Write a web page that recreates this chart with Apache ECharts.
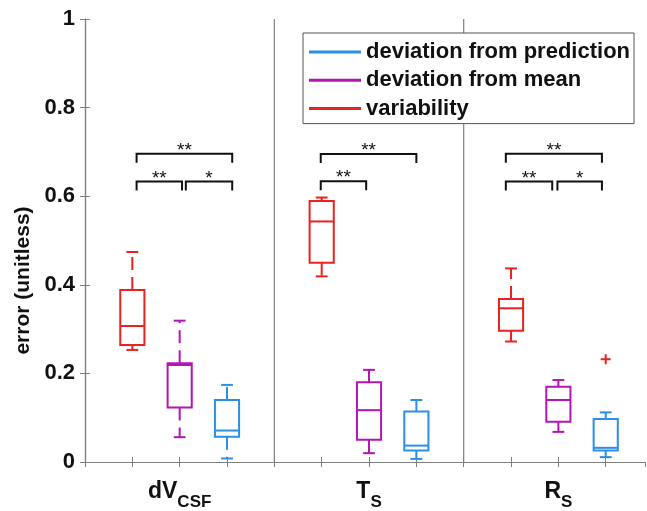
<!DOCTYPE html>
<html>
<head>
<meta charset="utf-8">
<script src="https://cdn.jsdelivr.net/npm/echarts@6/dist/echarts.min.js"></script>
<style>
html,body{margin:0;padding:0;background:#fff;}
#chart{width:647px;height:511px;}
</style>
</head>
<body>
<div id="chart"></div>
<script>
// ---- data ----
const groupLabelMain = ['dV', 'T', 'R'];
const groupLabelSub = ['CSF', 'S', 'S'];
const groupLabelPositions = [2, 6, 10];
const separatorPositions = [4, 8];
const yTicks = [0, 0.2, 0.4, 0.6, 0.8, 1];

// box stats: [lower whisker, q1, median, q3, upper whisker]
const variabilityX = [1, 5, 9];
const variabilityStats = [
  [0.253, 0.264, 0.307, 0.388, 0.474],
  [0.419, 0.450, 0.543, 0.589, 0.597],
  [0.272, 0.296, 0.347, 0.368, 0.437]
];
const meanX = [2, 6, 10];
const meanStats = [
  [0.056, 0.123, 0.219, 0.223, 0.319],
  [0.020, 0.050, 0.117, 0.180, 0.208],
  [0.068, 0.091, 0.140, 0.170, 0.185]
];
const predictionX = [3, 7, 11];
const predictionStats = [
  [0.008, 0.057, 0.071, 0.140, 0.174],
  [0.007, 0.026, 0.037, 0.114, 0.140],
  [0.011, 0.026, 0.032, 0.097, 0.112]
];
const outlierX = [11];
const outlierY = [0.232];

// significance brackets
const bracketStart = [1.09, 1.09, 2.13, 4.98, 4.98, 8.89, 8.89, 9.98];
const bracketEnd   = [3.11, 2.05, 3.11, 7.00, 5.94, 10.92, 9.87, 10.92];
const bracketLevel = [0.696, 0.633, 0.633, 0.695, 0.634, 0.696, 0.633, 0.633];
const bracketLabel = ['**', '**', '*', '**', '**', '**', '**', '*'];

// ---- styles ----
const FONT = '"Liberation Sans", Arial, Helvetica, sans-serif';
const AXIS_COLOR = '#808080';
const TEXT_COLOR = '#111111';
const C_RED = '#e8221f';
const C_MAG = '#b414b4';
const C_BLUE = '#2b8fe8';
const BOX_W = 0.51, CAP_W = 0.25;

function boxRender(color) {
  return function (params, api) {
    const x = api.value(0);
    const lo = api.coord([x, api.value(1)]);
    const q1 = api.coord([x, api.value(2)]);
    const md = api.coord([x, api.value(3)]);
    const q3 = api.coord([x, api.value(4)]);
    const hi = api.coord([x, api.value(5)]);
    const hw = api.size([BOX_W, 0])[0] / 2;
    const cw = api.size([CAP_W, 0])[0] / 2;
    const cx = q1[0];
    const s = { stroke: color, lineWidth: 2, fill: null };
    const d = { stroke: color, lineWidth: 2, lineDash: [13, 7] };
    return {
      type: 'group',
      children: [
        { type: 'line', shape: { x1: cx, y1: q3[1], x2: cx, y2: hi[1] }, style: d },
        { type: 'line', shape: { x1: cx, y1: q1[1], x2: cx, y2: lo[1] }, style: d },
        { type: 'line', shape: { x1: cx - cw, y1: hi[1], x2: cx + cw, y2: hi[1] }, style: s },
        { type: 'line', shape: { x1: cx - cw, y1: lo[1], x2: cx + cw, y2: lo[1] }, style: s },
        { type: 'rect', shape: { x: cx - hw, y: q3[1], width: 2 * hw, height: q1[1] - q3[1] }, style: { stroke: color, lineWidth: 2, fill: 'rgba(0,0,0,0)' } },
        { type: 'line', shape: { x1: cx - hw, y1: md[1], x2: cx + hw, y2: md[1] }, style: s }
      ]
    };
  };
}

function boxSeries(name, color, xs, stats) {
  return {
    name: name,
    type: 'custom',
    xAxisIndex: 0, yAxisIndex: 0,
    itemStyle: { color: color },
    encode: { x: 0, y: [1, 2, 3, 4, 5] },
    data: xs.map((x, i) => [x].concat(stats[i])),
    renderItem: boxRender(color),
    silent: true,
    z: 5
  };
}

const chart = echarts.init(document.getElementById('chart'), null, { renderer: 'canvas' });

const option = {
  backgroundColor: '#ffffff',
  animation: false,
  textStyle: { fontFamily: FONT },
  grid: { left: 85, right: 2, top: 19, bottom: 48, containLabel: false },
  legend: {
    data: [
      { name: 'deviation from prediction', itemStyle: { color: C_BLUE } },
      { name: 'deviation from mean', itemStyle: { color: C_MAG } },
      { name: 'variability', itemStyle: { color: C_RED } }
    ],
    orient: 'vertical',
    left: 303, top: 33,
    icon: 'rect',
    itemWidth: 52, itemHeight: 3,
    itemGap: 4.3,
    padding: [7, 4, 3, 6],
    backgroundColor: '#ffffff',
    borderColor: '#555555', borderWidth: 1,
    selectedMode: false,
    textStyle: { fontFamily: FONT, fontSize: 22, fontWeight: 'bold', color: TEXT_COLOR, lineHeight: 24 }
  },
  xAxis: [
    {
      type: 'value', position: 'bottom', min: 0, max: 11.83, interval: 1,
      axisLine: { show: true, lineStyle: { color: AXIS_COLOR, width: 1.2 } },
      axisTick: { show: true, inside: true, length: 5, lineStyle: { color: AXIS_COLOR } },
      splitLine: { show: false },
      axisLabel: {
        show: true, margin: 18, showMaxLabel: false, showMinLabel: false,
        formatter: function (v) {
          const i = groupLabelPositions.indexOf(v);
          if (i < 0) return '';
          return '{m|' + groupLabelMain[i] + '}{s|' + groupLabelSub[i] + '}';
        },
        rich: {
          m: { fontFamily: FONT, fontSize: 23, fontWeight: 'bold', color: TEXT_COLOR, verticalAlign: 'top' },
          s: { fontFamily: FONT, fontSize: 17, fontWeight: 'bold', color: TEXT_COLOR, verticalAlign: 'bottom', lineHeight: 31 }
        }
      }
    },
    {
      type: 'value', position: 'top', min: 0, max: 11.83, interval: 1,
      axisLine: { show: true, lineStyle: { color: AXIS_COLOR, width: 1.2 } },
      axisTick: { show: true, inside: true, length: 5, lineStyle: { color: AXIS_COLOR } },
      splitLine: { show: false },
      axisLabel: { show: false }
    }
  ],
  yAxis: [
    {
      type: 'value', position: 'left', min: 0, max: 1, interval: 0.2,
      name: 'error (unitless)', nameLocation: 'middle', nameGap: 42, nameRotate: 90,
      nameTextStyle: { fontFamily: FONT, fontSize: 21, fontWeight: 'bold', color: TEXT_COLOR, padding: [0, 80, 0, 0] },
      axisLine: { show: true, lineStyle: { color: AXIS_COLOR, width: 1.2 } },
      axisTick: { show: true, inside: true, length: 5, lineStyle: { color: AXIS_COLOR } },
      splitLine: { show: false },
      axisLabel: {
        margin: 10, fontFamily: FONT, fontSize: 22, fontWeight: 'bold', color: TEXT_COLOR,
        formatter: function (v) { return yTicks.indexOf(Math.round(v * 10) / 10) >= 0 ? String(Math.round(v * 10) / 10) : ''; }
      }
    },
    {
      type: 'value', position: 'right', min: 0, max: 1, interval: 0.2,
      axisLine: { show: true, lineStyle: { color: AXIS_COLOR, width: 1.2 } },
      axisTick: { show: true, inside: true, length: 5, lineStyle: { color: AXIS_COLOR } },
      splitLine: { show: false },
      axisLabel: { show: false }
    }
  ],
  series: [
    {
      name: 'separators', type: 'custom', xAxisIndex: 0, yAxisIndex: 0, silent: true, z: 1,
      encode: { x: 0 },
      data: separatorPositions.map(x => [x]),
      renderItem: function (params, api) {
        const x = api.value(0);
        const a = api.coord([x, 0]);
        const b = api.coord([x, 1]);
        return { type: 'line', shape: { x1: a[0], y1: a[1], x2: b[0], y2: b[1] }, style: { stroke: AXIS_COLOR, lineWidth: 1.2 } };
      }
    },
    boxSeries('variability', C_RED, variabilityX, variabilityStats),
    boxSeries('deviation from mean', C_MAG, meanX, meanStats),
    boxSeries('deviation from prediction', C_BLUE, predictionX, predictionStats),
    {
      name: 'outliers', type: 'custom', xAxisIndex: 0, yAxisIndex: 0, silent: true, z: 5,
      encode: { x: 0, y: 1 },
      data: outlierX.map((x, i) => [x, outlierY[i]]),
      renderItem: function (params, api) {
        const p = api.coord([api.value(0), api.value(1)]);
        const r = 5;
        const st = { stroke: C_RED, lineWidth: 2 };
        return { type: 'group', children: [
          { type: 'line', shape: { x1: p[0] - r, y1: p[1], x2: p[0] + r, y2: p[1] }, style: st },
          { type: 'line', shape: { x1: p[0], y1: p[1] - r, x2: p[0], y2: p[1] + r }, style: st }
        ] };
      }
    },
    {
      name: 'brackets', type: 'custom', xAxisIndex: 0, yAxisIndex: 0, silent: true, z: 6,
      encode: { x: [0, 1], y: 2 },
      data: bracketStart.map((s, i) => [s, bracketEnd[i], bracketLevel[i]]),
      renderItem: function (params, api) {
        const a = api.coord([api.value(0), api.value(2)]);
        const b = api.coord([api.value(1), api.value(2)]);
        const drop = 9;
        const st = { stroke: '#111', lineWidth: 2, fill: null };
        return { type: 'group', children: [
          { type: 'polyline', shape: { points: [[a[0], a[1] + drop], [a[0], a[1]], [b[0], b[1]], [b[0], b[1] + drop]] }, style: st },
          { type: 'text', style: { text: bracketLabel[params.dataIndex], x: (a[0] + b[0]) / 2, y: a[1] - 3, align: 'center', verticalAlign: 'middle', fontSize: 19, fontFamily: FONT, fill: '#111' } }
        ] };
      }
    }
  ]
};

chart.setOption(option);
</script>
</body>
</html>
